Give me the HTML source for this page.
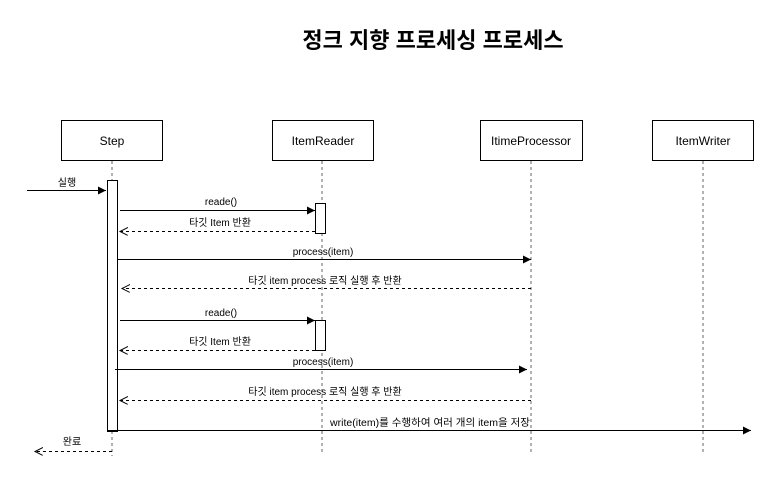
<!DOCTYPE html>
<html><head><meta charset="utf-8"><style>
body{margin:0;background:#fff;}
svg text{font-family:"Liberation Sans","Noto Sans CJK KR",sans-serif;}
</style></head><body>
<svg width="781" height="481" viewBox="0 0 781 481" xmlns="http://www.w3.org/2000/svg">
<defs>
<marker id="f" markerWidth="10" markerHeight="10" refX="8" refY="4" orient="auto" markerUnits="userSpaceOnUse"><path d="M0,0 L8,4 L0,8 Z" fill="#000"/></marker>
<marker id="o" markerWidth="10" markerHeight="10" refX="8" refY="4" orient="auto" markerUnits="userSpaceOnUse"><path d="M0,0 L8,4 L0,8" fill="none" stroke="#000"/></marker>
</defs>
<text x="433" y="48" font-size="22" font-weight="bold" text-anchor="middle">정크 지향 프로세싱 프로세스</text>
<g fill="#fff" stroke="#000">
<rect x="61.5" y="120.5" width="101" height="40"/>
<rect x="272.5" y="120.5" width="101" height="40"/>
<rect x="480.5" y="120.5" width="102" height="40"/>
<rect x="652.5" y="120.5" width="101" height="40"/>
</g>
<g font-size="12" text-anchor="middle">
<text x="112" y="145">Step</text>
<text x="323" y="145">ItemReader</text>
<text x="531" y="145">ItimeProcessor</text>
<text x="703" y="145">ItemWriter</text>
</g>
<g stroke="#666" stroke-dasharray="3,3">
<line x1="112" y1="161" x2="112" y2="456"/>
<line x1="322" y1="161" x2="322" y2="452"/>
<line x1="531" y1="161" x2="531" y2="452"/>
<line x1="703" y1="161" x2="703" y2="452"/>
</g>
<g fill="#fff" stroke="#000">
<rect x="107.5" y="180.5" width="10" height="251"/>
<rect x="315.5" y="203.5" width="10" height="30"/>
<rect x="315.5" y="320.5" width="10" height="30"/>
</g>
<g stroke="#000" fill="none">
<line x1="27" y1="190.5" x2="106" y2="190.5" marker-end="url(#f)"/>
<line x1="120" y1="210.5" x2="315" y2="210.5" marker-end="url(#f)"/>
<line x1="315" y1="231.5" x2="120" y2="231.5" stroke-dasharray="3,3" marker-end="url(#o)"/>
<line x1="117" y1="259.5" x2="531" y2="259.5" marker-end="url(#f)"/>
<line x1="531" y1="288.5" x2="122" y2="288.5" stroke-dasharray="3,3" marker-end="url(#o)"/>
<line x1="120" y1="320.5" x2="315" y2="320.5" marker-end="url(#f)"/>
<line x1="315" y1="350.5" x2="120" y2="350.5" stroke-dasharray="3,3" marker-end="url(#o)"/>
<line x1="115" y1="369.5" x2="527" y2="369.5" marker-end="url(#f)"/>
<line x1="531" y1="400.5" x2="120" y2="400.5" stroke-dasharray="3,3" marker-end="url(#o)"/>
<line x1="107" y1="430.5" x2="751" y2="430.5" marker-end="url(#f)"/>
<line x1="112" y1="451.5" x2="35" y2="451.5" stroke-dasharray="3,3" marker-end="url(#o)"/>
</g>
<g font-size="10" text-anchor="middle">
<text x="67" y="186">실행</text>
<text x="221" y="205">reade()</text>
<text x="220" y="226">타깃 Item 반환</text>
<text x="323" y="255">process(item)</text>
<text x="325" y="284">타깃 item process 로직 실행 후 반환</text>
<text x="221" y="316">reade()</text>
<text x="220" y="345">타깃 Item 반환</text>
<text x="323" y="365">process(item)</text>
<text x="325" y="395">타깃 item process 로직 실행 후 반환</text>
<text x="430" y="426" textLength="200" lengthAdjust="spacingAndGlyphs">write(item)를 수행하여 여러 개의 item을 저장</text>
<text x="72" y="445">완료</text>
</g>
</svg>
</body></html>
